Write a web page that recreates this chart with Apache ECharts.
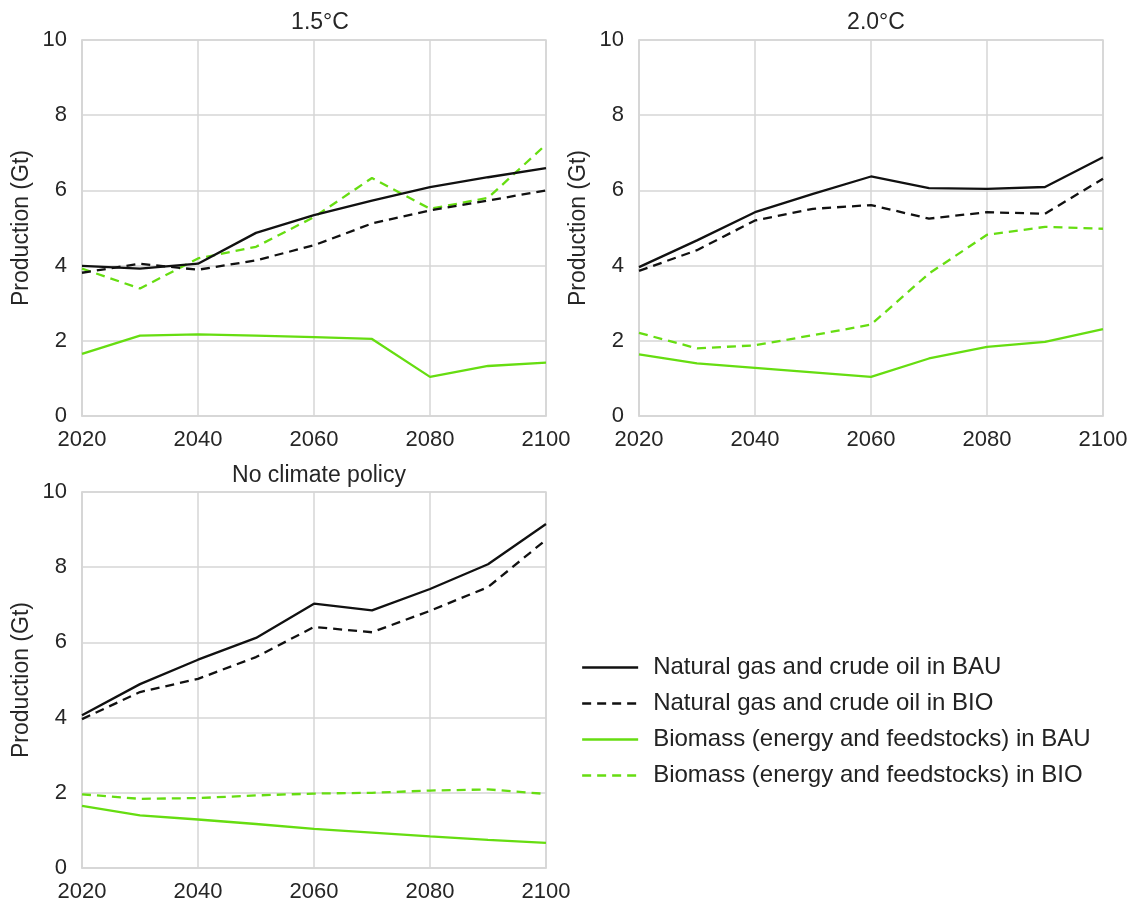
<!DOCTYPE html>
<html>
<head>
<meta charset="utf-8">
<script src="https://cdn.jsdelivr.net/npm/echarts@6/dist/echarts.min.js"></script>
<style>
  html, body { margin: 0; padding: 0; background: #fff; }
  #chart { width: 1134px; height: 905px; }
</style>
</head>
<body>
<div id="chart"></div>
<script>
// Production of fossil feedstocks and biomass per scenario, 2020-2100 (Gt)
const years = [2020, 2030, 2040, 2050, 2060, 2070, 2080, 2090, 2100];
const panelTitles = ['1.5°C', '2.0°C', 'No climate policy'];
const seriesNames = [
  'Natural gas and crude oil in BAU',
  'Natural gas and crude oil in BIO',
  'Biomass (energy and feedstocks) in BAU',
  'Biomass (energy and feedstocks) in BIO'
];

// 1.5°C scenario
const gasBAU_15 = [3.99, 3.92, 4.05, 4.87, 5.34, 5.73, 6.09, 6.35, 6.59];
const gasBIO_15 = [3.81, 4.05, 3.89, 4.14, 4.54, 5.12, 5.47, 5.73, 6.00];
const bioBAU_15 = [1.65, 2.14, 2.17, 2.14, 2.10, 2.05, 1.04, 1.33, 1.42];
const bioBIO_15 = [3.92, 3.39, 4.19, 4.50, 5.29, 6.33, 5.51, 5.80, 7.22];

// 2.0°C scenario
const gasBAU_20 = [3.96, 4.67, 5.42, 5.91, 6.37, 6.06, 6.04, 6.09, 6.88];
const gasBIO_20 = [3.86, 4.41, 5.20, 5.51, 5.61, 5.25, 5.42, 5.38, 6.31];
const bioBAU_20 = [1.64, 1.40, 1.28, 1.16, 1.04, 1.53, 1.84, 1.97, 2.31];
const bioBIO_20 = [2.21, 1.80, 1.88, 2.15, 2.43, 3.79, 4.82, 5.03, 4.98];

// No climate policy
const gasBAU_np = [4.06, 4.89, 5.54, 6.12, 7.03, 6.85, 7.42, 8.08, 9.15];
const gasBIO_np = [3.96, 4.68, 5.03, 5.61, 6.41, 6.27, 6.84, 7.47, 8.73];
const bioBAU_np = [1.65, 1.40, 1.29, 1.17, 1.04, 0.94, 0.84, 0.75, 0.67];
const bioBIO_np = [1.96, 1.84, 1.86, 1.93, 1.98, 2.00, 2.06, 2.09, 1.97];

const panels = [
  [gasBAU_15, gasBIO_15, bioBAU_15, bioBIO_15],
  [gasBAU_20, gasBIO_20, bioBAU_20, bioBIO_20],
  [gasBAU_np, gasBIO_np, bioBAU_np, bioBIO_np]
];

const FONT = '"Liberation Sans", Arial, sans-serif';
const TEXT = '#262626';
const GRIDC = '#d6d6d6';
const BLACK = '#111111';
const GREEN = '#66dd11';
const DASH = [9, 6];

const lineStyles = [
  { color: BLACK, width: 2.3, type: 'solid' },
  { color: BLACK, width: 2.3, type: DASH },
  { color: GREEN, width: 2.3, type: 'solid' },
  { color: GREEN, width: 2.3, type: DASH }
];

const grids = [
  { left: 82, top: 40, width: 464, height: 376 },
  { left: 639, top: 40, width: 464, height: 376 },
  { left: 82, top: 492, width: 464, height: 376 }
];

const titleCenters = [[315, 6], [871, 6], [314, 459]];

const chart = echarts.init(document.getElementById('chart'), null, { renderer: 'canvas' });

const option = {
  backgroundColor: '#ffffff',
  animation: false,
  textStyle: { fontFamily: FONT },
  title: panelTitles.map((t, i) => ({
    text: t,
    left: titleCenters[i][0],
    top: titleCenters[i][1],
    textAlign: 'center',
    textStyle: { fontFamily: FONT, fontSize: 23, fontWeight: 'normal', color: TEXT }
  })),
  grid: grids.map(g => Object.assign({
    show: true, borderColor: GRIDC, borderWidth: 1.5, containLabel: false
  }, g)),
  xAxis: grids.map((g, i) => ({
    type: 'value',
    gridIndex: i,
    min: 2020, max: 2100, interval: 20,
    axisLine: { show: true, lineStyle: { color: GRIDC, width: 1.5 } },
    axisTick: { show: false },
    splitLine: { show: true, lineStyle: { color: GRIDC, width: 1.5 } },
    axisLabel: { color: TEXT, fontSize: 22, fontFamily: FONT, margin: 13, formatter: v => String(v) }
  })),
  yAxis: grids.map((g, i) => ({
    type: 'value',
    gridIndex: i,
    min: 0, max: 10, interval: 2,
    name: 'Production (Gt)',
    nameLocation: 'middle',
    nameGap: 49,
    nameRotate: 90,
    nameTextStyle: { color: TEXT, fontSize: 23, fontFamily: FONT },
    axisLine: { show: true, lineStyle: { color: GRIDC, width: 1.5 } },
    axisTick: { show: false },
    splitLine: { show: true, lineStyle: { color: GRIDC, width: 1.5 } },
    axisLabel: { color: TEXT, fontSize: 22, fontFamily: FONT, margin: 15 }
  })),
  legend: {
    orient: 'vertical',
    left: 576,
    top: 650,
    itemWidth: 56,
    itemHeight: 14,
    itemGap: 11,
    data: seriesNames.map((n, i) => ({
      name: n,
      itemStyle: { opacity: 0 },
      lineStyle: lineStyles[i]
    })),
    textStyle: { color: '#222222', fontSize: 24, fontFamily: FONT, lineHeight: 25, padding: [0, 0, 0, 10] }
  },
  series: []
};

panels.forEach((sets, p) => {
  sets.forEach((vals, k) => {
    option.series.push({
      name: seriesNames[k],
      type: 'line',
      xAxisIndex: p,
      yAxisIndex: p,
      data: years.map((y, j) => [y, vals[j]]),
      showSymbol: false,
      symbol: 'none',
      lineStyle: lineStyles[k],
      itemStyle: { color: lineStyles[k].color },
      z: k < 2 ? 3 : 2
    });
  });
});

chart.setOption(option);
</script>
</body>
</html>
